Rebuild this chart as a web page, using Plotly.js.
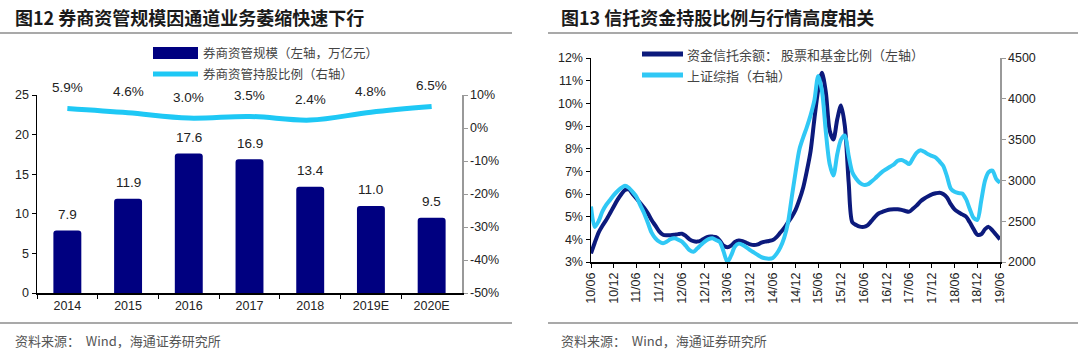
<!DOCTYPE html>
<html>
<head>
<meta charset="utf-8">
<script src="https://cdn.plot.ly/plotly-3.0.1.min.js"></script>
<style>html,body{margin:0;padding:0;background:#fff;}#chart{width:1080px;height:356px;}</style>
</head>
<body>
<div id="chart"></div>
<script>
// ---------- Left chart data ----------
const years = ["2014", "2015", "2016", "2017", "2018", "2019E", "2020E"];
const amScale = [7.9, 11.9, 17.6, 16.9, 13.4, 11.0, 9.5];          // 万亿元
const amEquityShare = [0.059, 0.046, 0.030, 0.035, 0.024, 0.048, 0.065];
const leftRightTickVals = [0.1, 0, -0.1, -0.2, -0.3, -0.4, -0.5];
const leftRightTickText = ["10%", "0%", "-10%", "-20%", "-30%", "-40%", "-50%"];

// ---------- Right chart data (monthly, 2010-06 .. 2019-06) ----------
const startYear = 2010, startMonth = 6;
const trustEquityShare = [
  3.38, 3.85, 4.3, 4.6, 4.85, 5.15, 5.45, 5.75, 6.0, 6.18, 6.2, 6.0,
  5.8, 5.6, 5.4, 5.15, 4.85, 4.6, 4.35, 4.2, 4.18, 4.18, 4.2, 4.23,
  4.25, 4.15, 4.0, 3.92, 3.9, 3.95, 4.05, 4.12, 4.12, 4.1, 3.95, 3.72,
  3.65, 3.72, 3.88, 3.95, 3.92, 3.85, 3.78, 3.75, 3.78, 3.85, 3.9, 3.93,
  3.97, 4.1, 4.3, 4.5, 4.75, 5.0, 5.3, 5.75, 6.3, 7.0, 7.9, 9.3,
  10.6, 11.35, 10.5, 8.8, 8.4, 9.3, 9.9, 9.0, 6.5, 4.75, 4.63, 4.56,
  4.55, 4.62, 4.8, 5.0, 5.15, 5.22, 5.28, 5.32, 5.33, 5.33, 5.3, 5.25,
  5.22, 5.35, 5.5, 5.68, 5.8, 5.9, 5.98, 6.03, 6.06, 6.0, 5.85, 5.55,
  5.32, 5.2, 5.1, 5.0, 4.75, 4.45, 4.2, 4.22, 4.45, 4.55, 4.4, 4.2, 4.0
];
const shComposite = [
  2680, 2430, 2500, 2620, 2700, 2760, 2820, 2870, 2910, 2935, 2910, 2860,
  2800, 2700, 2600, 2480, 2360, 2290, 2250, 2230, 2250, 2280, 2290, 2275,
  2250, 2200, 2145, 2125, 2165, 2210, 2250, 2280, 2290, 2270, 2245, 2130,
  2000, 2080, 2190, 2225, 2210, 2180, 2145, 2115, 2085, 2060, 2045, 2040,
  2050, 2100, 2180, 2300, 2480, 2800, 3100, 3380, 3530, 3650, 3800, 3980,
  4280, 4100, 3600, 3200, 3060, 3320, 3500, 3550, 3300, 3100, 3020, 2970,
  2945, 2950, 2985, 3025, 3070, 3110, 3140, 3170, 3200, 3240, 3250, 3230,
  3200, 3270, 3340, 3370, 3350, 3320, 3300, 3280, 3230, 3180, 3050, 2900,
  2860, 2845, 2840, 2770, 2650, 2540, 2515, 2750, 3000, 3100, 3120, 3020, 2970
];
const rightTickDates = ["2010-06-01","2010-12-01","2011-06-01","2011-12-01","2012-06-01","2012-12-01",
  "2013-06-01","2013-12-01","2014-06-01","2014-12-01","2015-06-01","2015-12-01","2016-06-01",
  "2016-12-01","2017-06-01","2017-12-01","2018-06-01","2018-12-01","2019-06-01"];
const rightTickLabels = ["10/06","10/12","11/06","11/12","12/06","12/12","13/06","13/12","14/06",
  "14/12","15/06","15/12","16/06","16/12","17/06","17/12","18/06","18/12","19/06"];

const months = trustEquityShare.map((_, i) => {
  const t = startMonth - 1 + i;
  const y = startYear + Math.floor(t / 12);
  const m = t % 12 + 1;
  return y + "-" + String(m).padStart(2, "0") + "-01";
});

// ---------- helpers ----------
const W = 1080, H = 356;
const PX = x => x / W;
const PY = y => 1 - y / H;
const NUM = "Liberation Sans, Arial, sans-serif";
const CJK = "Noto Sans CJK SC, sans-serif";
const NAVY = "#000080", CYAN = "#1ec8f5";
const DARK2 = "#0c1a7c", CYAN2 = "#30c8f5";

const traces = [
  { type: "bar", x: years, y: amScale, xaxis: "x", yaxis: "y",
    marker: { color: NAVY, cornerradius: 3 }, hoverinfo: "skip", showlegend: false },
  { type: "scatter", mode: "lines", x: years, y: amEquityShare, xaxis: "x", yaxis: "y2",
    line: { color: CYAN, width: 5, shape: "spline", smoothing: 1 }, hoverinfo: "skip", showlegend: false },
  { type: "scatter", mode: "lines", x: months, y: trustEquityShare.map(v => v / 100), xaxis: "x2", yaxis: "y3",
    line: { color: DARK2, width: 4, shape: "spline", smoothing: 0.8 }, hoverinfo: "skip", showlegend: false },
  { type: "scatter", mode: "lines", x: months, y: shComposite, xaxis: "x2", yaxis: "y4",
    line: { color: CYAN2, width: 4, shape: "spline", smoothing: 0.8 }, hoverinfo: "skip", showlegend: false }
];

const annotations = [];
// value labels (x given as category index of the category axis)
years.forEach((c, i) => {
  annotations.push({ x: i, y: amScale[i], xref: "x", yref: "y", text: amScale[i].toFixed(1),
    showarrow: false, yshift: 16, font: { family: NUM, size: 13.5, color: "#222" } });
  annotations.push({ x: i, y: amEquityShare[i], xref: "x", yref: "y2", text: (amEquityShare[i] * 100).toFixed(1) + "%",
    showarrow: false, yshift: 21, font: { family: NUM, size: 13.5, color: "#222" } });
});
// titles
annotations.push({ xref: "paper", yref: "paper", x: PX(13), y: PY(17), xanchor: "left", yanchor: "middle",
  text: "<b>图12 券商资管规模因通道业务萎缩快速下行</b>", showarrow: false, font: { family: CJK, size: 18, color: "#1a1a1a" } });
annotations.push({ xref: "paper", yref: "paper", x: PX(559), y: PY(17), xanchor: "left", yanchor: "middle",
  text: "<b>图13 信托资金持股比例与行情高度相关</b>", showarrow: false, font: { family: CJK, size: 18, color: "#1a1a1a" } });
// sources
annotations.push({ xref: "paper", yref: "paper", x: PX(13), y: PY(340), xanchor: "left", yanchor: "middle",
  text: "资料来源：  Wind，海通证券研究所", showarrow: false, font: { family: CJK, size: 13, color: "#555" } });
annotations.push({ xref: "paper", yref: "paper", x: PX(559), y: PY(340), xanchor: "left", yanchor: "middle",
  text: "资料来源：  Wind，海通证券研究所", showarrow: false, font: { family: CJK, size: 13, color: "#555" } });
// legends
const legText = (x, y, t, s) => ({ xref: "paper", yref: "paper", x: PX(x), y: PY(y), xanchor: "left", yanchor: "middle",
  text: t, showarrow: false, font: { family: CJK, size: s, color: "#444" } });
annotations.push(legText(201, 53, "券商资管规模（左轴，万亿元）", 12.5));
annotations.push(legText(201, 74, "券商资管持股比例（右轴）", 12.5));
annotations.push(legText(685, 54, "资金信托余额： 股票和基金比例（左轴）", 13));
annotations.push(legText(685, 75, "上证综指（右轴）", 13));

const shapes = [
  { type: "line", xref: "paper", yref: "paper", x0: PX(0), x1: PX(512), y0: PY(33), y1: PY(33), line: { color: "#555", width: 1.2 } },
  { type: "line", xref: "paper", yref: "paper", x0: PX(548), x1: PX(1078), y0: PY(33), y1: PY(33), line: { color: "#555", width: 1.2 } },
  { type: "line", xref: "paper", yref: "paper", x0: PX(0), x1: PX(512), y0: PY(323), y1: PY(323), line: { color: "#555", width: 1.2 } },
  { type: "line", xref: "paper", yref: "paper", x0: PX(548), x1: PX(1078), y0: PY(323), y1: PY(323), line: { color: "#555", width: 1.2 } },
  { type: "rect", xref: "paper", yref: "paper", x0: PX(153), x1: PX(198), y0: PY(59), y1: PY(47), fillcolor: NAVY, line: { width: 0 } },
  { type: "line", xref: "paper", yref: "paper", x0: PX(153), x1: PX(198), y0: PY(74), y1: PY(74), line: { color: CYAN, width: 5 } },
  { type: "line", xref: "paper", yref: "paper", x0: PX(642), x1: PX(683), y0: PY(54), y1: PY(54), line: { color: DARK2, width: 5 } },
  { type: "line", xref: "paper", yref: "paper", x0: PX(642), x1: PX(683), y0: PY(75), y1: PY(75), line: { color: CYAN2, width: 5 } }
];

const tickFont = { family: NUM, size: 12.5, color: "#222" };
const layout = {
  width: W, height: H, margin: { l: 0, r: 0, t: 0, b: 0 },
  paper_bgcolor: "#fff", plot_bgcolor: "rgba(0,0,0,0)",
  showlegend: false, bargap: 0.54,
  xaxis: { domain: [PX(37), PX(462)], anchor: "y", type: "category", range: [-0.5, 6.5],
    showline: true, linecolor: "#000", linewidth: 1.5, ticks: "outside", ticklen: 4, tickcolor: "#000",
    tickson: "boundaries", showgrid: false, tickfont: tickFont, fixedrange: true },
  yaxis: { domain: [PY(293), PY(95)], anchor: "x", range: [0, 25], dtick: 5, showline: true, linecolor: "#000",
    linewidth: 1.5, ticks: "outside", ticklen: 4, tickcolor: "#000", showgrid: false, zeroline: false, tickfont: tickFont },
  yaxis2: { overlaying: "y", anchor: "x", side: "right", range: [-0.5, 0.1], tickvals: leftRightTickVals,
    ticktext: leftRightTickText, showline: true, linecolor: "#999", linewidth: 1.5, ticks: "outside", ticklen: 4,
    tickcolor: "#999", showgrid: false, zeroline: false, tickfont: tickFont },
  xaxis2: { domain: [PX(591), PX(1000)], anchor: "y3", type: "date", range: ["2010-06-01", "2019-06-01"],
    tickvals: rightTickDates, ticktext: rightTickLabels, tickangle: -90, showline: true, linecolor: "#000",
    linewidth: 1.5, ticks: "outside", ticklen: 4, tickcolor: "#000", showgrid: false, tickfont: tickFont },
  yaxis3: { domain: [PY(262), PY(58)], anchor: "x2", range: [0.03, 0.12], dtick: 0.01, tickformat: ".0%",
    showline: true, linecolor: "#000", linewidth: 1.5, ticks: "outside", ticklen: 4, tickcolor: "#000",
    showgrid: false, zeroline: false, tickfont: tickFont },
  yaxis4: { overlaying: "y3", anchor: "x2", side: "right", range: [2000, 4500], dtick: 500,
    showline: true, linecolor: "#999", linewidth: 1.5, ticks: "outside", ticklen: 4, tickcolor: "#999",
    showgrid: false, zeroline: false, tickfont: tickFont },
  annotations: annotations, shapes: shapes
};

Plotly.newPlot("chart", traces, layout, { staticPlot: true, displayModeBar: false });
</script>
</body>
</html>
